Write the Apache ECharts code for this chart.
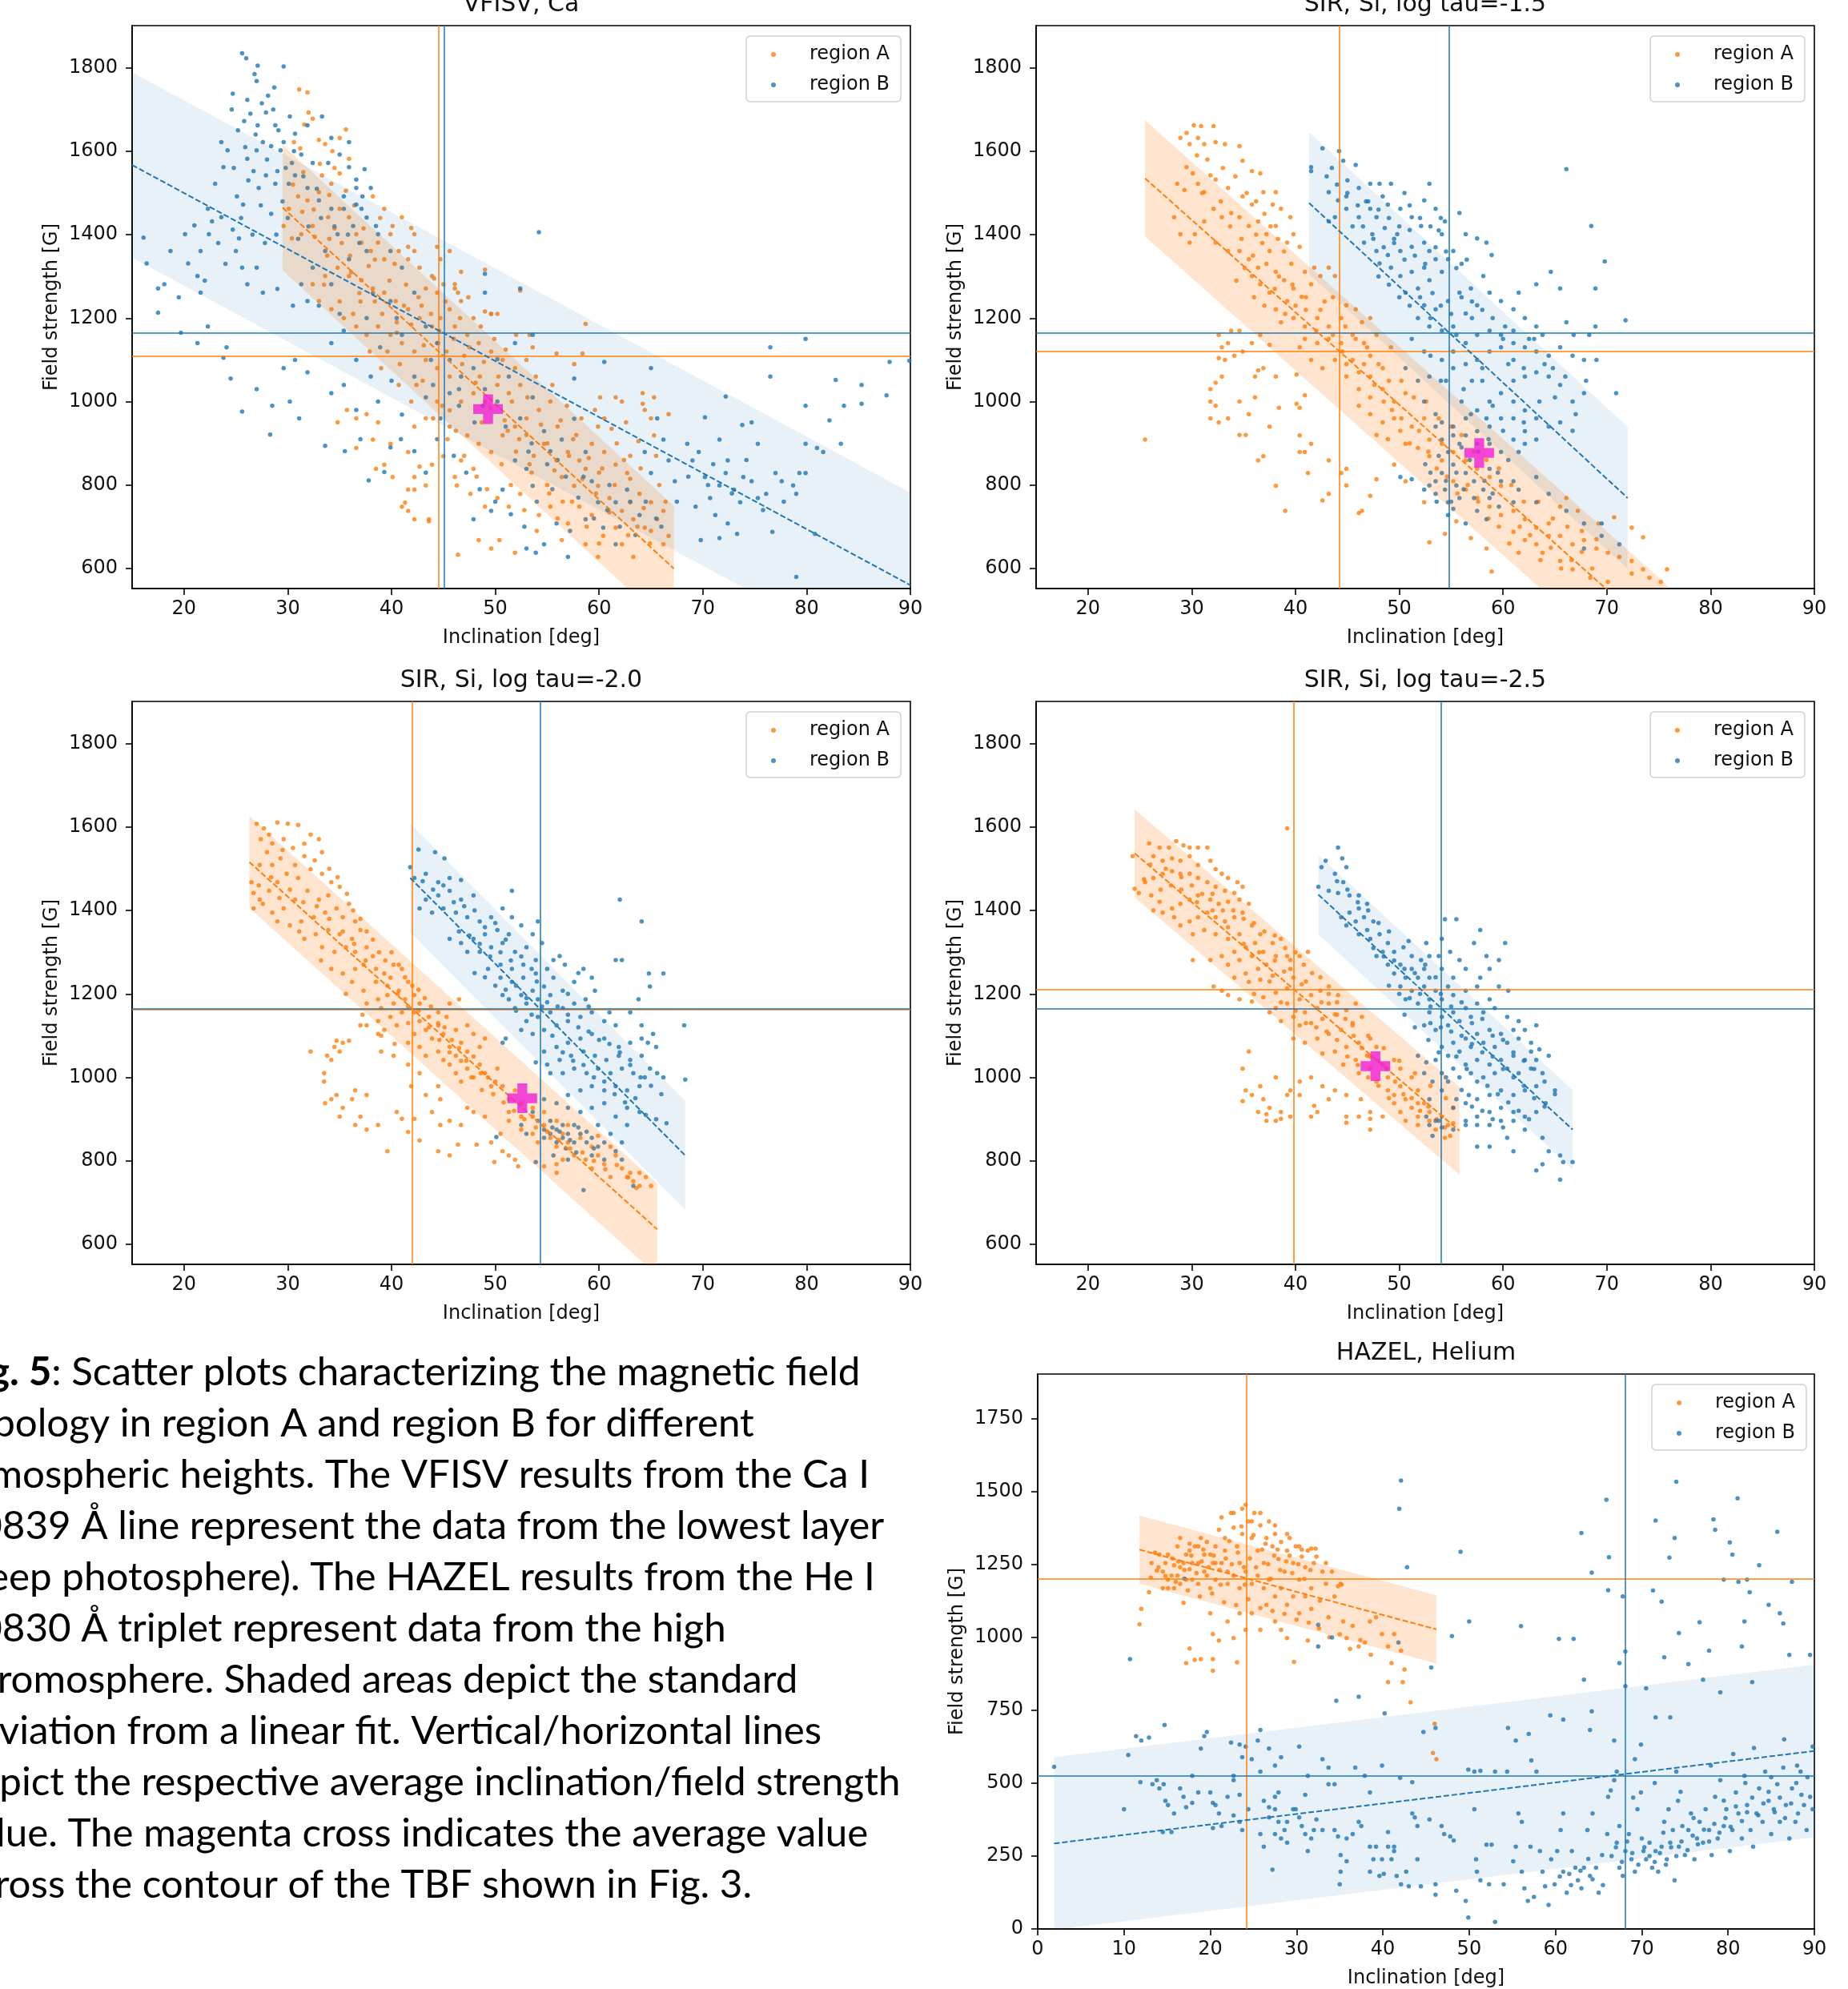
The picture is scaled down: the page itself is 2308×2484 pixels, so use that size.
<!DOCTYPE html>
<html>
<head>
<meta charset="utf-8">
<script src="https://cdn.jsdelivr.net/npm/echarts@6/dist/echarts.min.js"></script>
<style>
  html, body { margin: 0; padding: 0; background: #fff; }
  #chart { width: 2308px; height: 2484px; }
</style>
</head>
<body>
<div id="chart"></div>
<script>
// ---- axis ticks ----
const xTicks = [20, 30, 40, 50, 60, 70, 80, 90];
const yTicks = [600, 800, 1000, 1200, 1400, 1600, 1800];
const heXTicks = [0, 10, 20, 30, 40, 50, 60, 70, 80, 90];
const heYTicks = [0, 250, 500, 750, 1000, 1250, 1500, 1750];

const panelTitles = ['VFISV, Ca', 'SIR, Si, log tau=-1.5', 'SIR, Si, log tau=-2.0', 'SIR, Si, log tau=-2.5', 'HAZEL, Helium'];

// ---- VFISV, Ca ----
const caA = [[31.1,1748],[31.9,1741],[32.0,1693],[32.4,1678],[31.6,1664],[30.6,1622],[31.2,1607],[33.0,1627],[33.6,1617],[35.6,1652],[35.0,1632],[33.3,1542],[34.2,1522],[33.0,1502],[31.9,1482],[31.0,1492],[30.1,1462],[29.6,1421],[30.4,1391],[31.3,1401],[32.4,1421],[33.9,1442],[35.0,1462],[35.9,1442],[36.6,1401],[37.1,1381],[38.0,1361],[38.7,1381],[39.3,1341],[39.9,1401],[40.7,1361],[41.6,1341],[42.2,1361],[42.7,1321],[43.9,1301],[43.3,1271],[44.4,1261],[45.0,1281],[46.1,1271],[46.7,1241],[45.6,1221],[44.7,1200],[43.9,1180],[42.7,1200],[41.6,1221],[40.4,1241],[39.3,1261],[38.2,1271],[37.1,1291],[35.9,1301],[34.8,1321],[33.6,1301],[32.4,1281],[33.0,1241],[34.2,1221],[35.4,1200],[36.6,1180],[37.6,1160],[38.7,1180],[39.9,1160],[41.0,1140],[42.2,1120],[43.3,1100],[44.4,1080],[45.6,1060],[46.1,1180],[47.3,1160],[47.9,1200],[49.0,1216],[49.6,1210],[48.4,1140],[49.6,1120],[50.7,1100],[51.9,1080],[53.0,1100],[53.3,1160],[53.6,1130],[52.4,1040],[51.3,1020],[50.2,1040],[49.0,1000],[47.9,1020],[46.7,1000],[45.6,979],[44.4,1000],[43.3,960],[42.2,940],[45.6,940],[47.3,919],[48.4,899],[49.6,879],[50.7,919],[51.9,940],[53.0,960],[54.2,980],[55.3,1000],[54.7,899],[55.9,859],[57.0,879],[58.1,859],[56.4,819],[57.6,798],[58.7,839],[59.3,899],[59.9,940],[60.5,960],[61.6,1010],[62.2,1000],[64.2,1020],[64.4,980],[65.0,960],[65.3,1010],[66.7,970],[60.5,879],[61.6,849],[62.7,829],[63.9,779],[65.0,759],[66.2,738],[59.9,798],[61.0,769],[62.2,738],[63.3,718],[61.6,698],[60.4,678],[59.3,728],[58.1,748],[57.0,708],[56.4,668],[58.7,658],[59.9,628],[62.2,658],[64.4,698],[65.6,718],[66.7,678],[66.2,658],[63.3,628],[55.3,748],[54.2,728],[52.4,779],[51.3,748],[50.2,769],[49.0,748],[47.9,839],[46.7,859],[46.1,819],[45.0,869],[43.9,849],[42.2,819],[41.6,789],[41.0,748],[42.2,718],[43.6,718],[46.3,799],[47.6,779],[48.4,668],[49.6,648],[50.4,668],[51.9,638],[46.4,633],[43.3,799],[39.3,849],[39.9,899],[38.7,950],[37.6,970],[36.6,960],[35.7,980],[34.8,950],[36.6,889],[38.2,909],[38.5,839],[41.3,758],[41.6,738],[60.1,1010],[64.2,995],[65.3,919],[63.0,759],[49.0,1316],[49.6,1210],[46.7,1311],[46.1,1281],[46.4,1261],[52.4,1266],[58.7,1186],[55.9,1115],[58.4,1115],[57.6,1090],[50.2,1210],[41.9,1416],[35.9,1582],[35.0,1547],[38.2,1492],[39.3,1462],[40.1,1421],[41.0,1442],[42.2,1401],[41.6,1371],[44.7,1341],[44.4,1371],[45.6,1361],[41.6,879],[40.1,819],[42.2,789],[43.6,713],[42.7,844],[52.0,880],[53.5,830],[55.0,800],[56.5,760],[53.0,920],[56.0,940],[57.5,910],[60.0,830],[61.5,800],[63.0,870],[64.0,840],[48.5,1060],[44.5,1140],[47.0,1110],[40.5,1190],[37.0,1240],[36.0,1350],[34.0,1390],[32.5,1460],[31.5,1550],[34.5,1560],
  [30.5,1520],[31.4,1455],[32.6,1395],[33.8,1350],[34.5,1415],[35.2,1380],[36.1,1310],[36.9,1260],[37.8,1325],[38.4,1240],[39.1,1210],[39.8,1290],[40.5,1165],[41.2,1230],[41.9,1185],[42.6,1250],[43.1,1135],[43.8,1210],[44.6,1170],[45.3,1120],[46.0,1150],[46.8,1090],[47.5,1130],[48.1,1045],[48.9,1095],[49.5,985],[50.3,1060],[50.9,955],[51.6,1000],[52.3,910],[53.1,1010],[53.7,870],[54.4,945],[55.0,900],[55.7,835],[56.3,955],[57.1,870],[57.8,920],[58.4,815],[59.0,865],[59.7,780],[60.3,840],[61.0,735],[61.7,900],[62.4,860],[63.0,815],[63.7,700],[64.3,745],[65.0,690],[65.8,800],[66.4,760],[34.0,1495],[35.6,1505],[37.3,1415],[38.9,1440],[40.3,1330],[41.4,1280],[42.9,1230],[44.1,1295],[45.2,1240],[46.6,1200],[47.4,1250],[48.6,1180],[49.9,1150],[51.0,1125],[52.0,1160],[53.9,1060],[55.5,1040],[56.9,990],[58.3,960],[59.6,980],[61.2,935],[62.6,950],[63.8,905],[65.5,870],[33.5,1280],[35.0,1240],[36.3,1210],[37.9,1120],[39.0,1080],[40.7,1040],[41.9,1000],[43.0,1050],[44.9,990],[46.2,930],[47.0,870],[48.2,820],[49.2,790],[50.6,850],[51.5,800],[52.8,740],[54.0,690],[55.2,780],[56.0,720],[57.4,760],[58.8,700],[60.0,660],[62.8,680],[64.9,660],[33.1,1570],[34.3,1600],[36.4,1470],[38.4,1340],[39.6,1120],[40.8,1090],[42.4,1040],[44.0,960],[45.4,910],[48.7,950],[51.2,930],[53.3,850]];
const caB = [[25.6,1835],[26.0,1823],[27.1,1805],[29.6,1803],[26.8,1785],[24.7,1738],[24.6,1700],[26.1,1723],[28.1,1733],[28.7,1753],[27.0,1768],[25.8,1672],[27.1,1662],[27.9,1693],[28.8,1662],[30.2,1683],[27.6,1622],[28.4,1612],[29.3,1602],[27.0,1602],[26.1,1582],[26.7,1552],[27.9,1542],[28.8,1522],[27.2,1512],[25.1,1492],[25.7,1472],[23.6,1622],[24.2,1602],[23.8,1562],[23.0,1522],[22.3,1462],[22.7,1432],[23.6,1442],[24.7,1412],[25.3,1391],[25.0,1361],[25.6,1321],[26.1,1281],[27.0,1321],[27.6,1261],[22.4,1401],[21.6,1361],[21.3,1301],[20.4,1331],[20.1,1401],[21.0,1422],[18.7,1361],[18.1,1281],[17.5,1271],[16.1,1393],[16.4,1331],[17.5,1213],[19.7,1165],[21.6,1261],[22.3,1180],[21.3,1140],[24.1,1130],[23.8,1105],[24.5,1055],[25.6,976],[27.0,1030],[28.5,990],[28.3,921],[30.2,1000],[31.1,960],[29.6,1080],[30.7,1100],[31.9,1070],[33.6,894],[35.5,881],[34.2,1020],[35.4,1040],[36.6,980],[37.0,910],[37.8,811],[39.3,831],[39.9,890],[40.9,910],[42.2,881],[43.3,830],[44.7,960],[45.6,1020],[44.4,910],[47.9,718],[49.6,738],[50.7,789],[51.9,859],[53.0,839],[53.6,798],[54.7,658],[55.9,708],[57.0,628],[53.0,648],[53.9,638],[54.2,1406],[49.0,1306],[51.9,1140],[52.4,960],[53.6,1010],[54.7,929],[55.3,881],[56.4,909],[57.6,959],[58.7,879],[59.3,809],[59.9,759],[58.7,718],[60.4,698],[61.6,759],[62.7,789],[63.9,728],[61.6,658],[64.4,879],[65.0,829],[66.2,909],[66.7,859],[67.3,809],[68.5,899],[69.0,859],[69.6,879],[70.2,819],[70.7,769],[71.6,799],[72.2,829],[71.6,909],[72.4,859],[73.0,789],[73.6,759],[72.4,708],[71.2,728],[69.3,748],[69.8,668],[71.6,673],[73.3,683],[73.9,819],[74.7,809],[75.3,899],[75.3,769],[76.1,779],[76.7,688],[77.0,829],[77.6,809],[78.7,799],[79.0,779],[79.3,829],[79.9,899],[79.9,829],[76.5,1060],[76.5,1130],[79.9,990],[79.9,1150],[81.0,889],[81.6,879],[82.2,955],[82.8,1052],[83.6,990],[83.3,899],[85.3,995],[85.3,1040],[87.7,1015],[88.0,1095],[89.9,1098],[79.0,580],[80.8,683],[73.8,944],[72.2,1012],[70.2,962],[74.7,950],[65.6,960],[65.0,1080],[60.5,1095],[57.6,1055],[50.2,1102],[53.6,1160],[52.4,1271],[49.0,1261],[30.7,1542],[31.9,1512],[33.0,1482],[34.2,1462],[35.4,1492],[36.6,1512],[37.1,1462],[36.3,1421],[34.8,1401],[33.6,1361],[32.4,1321],[31.3,1281],[31.9,1241],[34.2,1281],[35.9,1341],[37.6,1361],[38.7,1401],[39.9,1361],[41.0,1321],[42.2,1261],[39.9,1241],[37.6,1200],[35.4,1170],[34.2,1140],[36.6,1100],[38.9,1130],[41.0,1160],[43.3,1180],[44.4,1140],[45.6,1100],[46.7,1060],[47.9,1080],[49.0,1030],[50.2,1000],[51.3,1060],[42.2,1060],[43.3,1010],[41.0,969],[38.7,1000],[30.7,1642],[31.9,1662],[33.3,1683],[34.2,1632],[35.0,1592],[35.9,1562],[36.6,1532],[37.4,1557],[35.9,1622],[33.9,1572],[32.4,1572],[31.3,1592],[30.4,1572],[29.6,1622],[29.0,1552],[30.1,1522],[38.0,1512],[37.2,1492],[37.6,1441],[38.5,1421],[36.6,1472],[35.4,1462],[46.0,870],[47.2,830],[48.5,790],[50.0,760],[51.5,730],[52.8,700],[54.0,760],[55.5,790],[56.8,820],[58.0,770],[59.5,720],[60.8,740],[62.0,700],[63.5,680],[64.5,760],[66.0,700],[57.2,690],[53.2,880],[55.0,850],[48.0,950],[46.5,990],[44.0,1040],[40.0,1050],[38.0,1060],
  [25.2,1650],[25.9,1610],[26.4,1690],[26.9,1640],[27.5,1715],[28.0,1580],[28.6,1700],[29.1,1650],[29.8,1560],[30.6,1600],[31.5,1540],[32.8,1510],[26.2,1530],[27.4,1470],[28.4,1450],[29.5,1480],[24.8,1560],[25.5,1440],[23.3,1380],[24.0,1330],[26.6,1400],[27.8,1380],[28.9,1400],[30.0,1440],[31.0,1390],[32.0,1420],[33.2,1440],[34.5,1420],[35.8,1400],[36.9,1380],[33.0,1230],[35.0,1210],[38.2,1260],[40.5,1200],[43.8,1100],[46.5,1030],[48.8,990],[51.0,940],[53.5,900],[56.0,860],[58.5,820],[61.0,800],[63.0,760],[65.5,720],[67.5,760],[70.5,800],[72.8,780],[75.8,740],[77.8,760],[68.6,820],[71.0,850],[74.2,860],[29.0,1270],[30.5,1230],[19.5,1250],[22.0,1290]];
const caFitA = [[29.5, 1465], [67.2, 600]];
const caBandA = [[29.5, 1315, 1615], [67.2, 450, 750]];
const caFitB = [[15, 1567], [90, 560]];
const caBandB = [[15, 1345, 1789], [90, 338, 782]];
const caMeanA = [44.5, 1109];
const caMeanB = [45.1, 1164];
const caCross = [49.3, 982];

// ---- SIR, Si, log tau=-1.5 ----
const si15A = [[28.9,1632],[29.5,1644],[30.2,1662],[30.9,1660],[32.1,1660],[29.8,1617],[30.6,1632],[31.2,1617],[32.3,1622],[33.2,1617],[34.6,1612],[29.5,1562],[30.1,1547],[30.6,1522],[31.2,1502],[31.8,1542],[32.3,1532],[33.5,1512],[34.9,1577],[35.8,1552],[36.6,1547],[34.9,1492],[35.8,1472],[36.9,1502],[38.1,1502],[37.8,1472],[38.6,1462],[39.5,1442],[39.8,1401],[40.4,1371],[39.2,1381],[38.1,1421],[37.2,1401],[36.4,1432],[35.5,1421],[34.6,1442],[33.8,1452],[32.9,1442],[32.1,1462],[31.2,1432],[30.3,1401],[29.8,1381],[28.9,1401],[28.3,1442],[28.6,1522],[29.3,1507],[32.3,1381],[33.5,1361],[34.6,1361],[35.5,1341],[36.4,1321],[37.5,1361],[35.8,1301],[36.6,1281],[37.5,1261],[38.1,1311],[38.9,1291],[39.8,1271],[40.6,1251],[41.5,1281],[42.4,1301],[43.2,1321],[43.8,1301],[41.8,1321],[40.9,1311],[39.2,1241],[38.1,1221],[38.6,1190],[39.8,1200],[40.9,1180],[42.1,1200],[43.2,1180],[44.4,1200],[44.9,1231],[45.8,1221],[46.4,1190],[47.2,1200],[47.8,1160],[46.6,1140],[45.5,1160],[44.4,1140],[43.2,1150],[42.1,1140],[40.9,1150],[40.4,1130],[41.5,1100],[42.6,1080],[43.8,1100],[44.9,1090],[46.1,1070],[47.2,1060],[48.4,1080],[49.2,1130],[47.2,1110],[44.9,1060],[46.1,1030],[47.2,1010],[48.4,1030],[49.5,1000],[50.6,1020],[49.5,960],[48.4,950],[47.2,970],[46.1,990],[47.8,920],[48.9,910],[50.1,930],[51.2,940],[52.4,960],[50.6,899],[51.8,889],[52.9,909],[54.1,899],[52.9,869],[54.1,859],[55.2,879],[56.4,859],[57.5,839],[58.7,819],[59.8,798],[55.2,809],[56.4,789],[57.5,769],[58.7,748],[59.8,728],[61.0,738],[62.1,718],[63.2,698],[64.4,708],[65.5,678],[66.7,658],[67.8,668],[69.0,648],[70.1,638],[71.2,628],[72.4,618],[73.5,598],[74.1,578],[75.2,568],[75.8,598],[73.5,675],[72.4,698],[70.7,723],[69.2,708],[67.2,738],[66.1,769],[65.5,748],[64.4,678],[63.2,658],[62.1,668],[61.0,688],[61.5,638],[63.8,638],[65.5,618],[66.7,598],[68.4,578],[70.1,568],[72.4,588],[58.9,593],[58.4,648],[56.9,673],[55.5,713],[54.4,683],[52.9,663],[52.4,759],[50.6,809],[49.5,849],[47.8,814],[46.4,738],[44.9,799],[44.4,829],[43.2,859],[41.5,899],[40.4,919],[40.9,879],[40.4,985],[40.1,995],[40.9,1015],[38.4,985],[37.5,940],[36.9,869],[36.4,859],[38.1,798],[39.0,738],[40.4,879],[41.2,829],[42.6,763],[43.2,779],[44.9,839],[46.1,733],[47.2,774],[36.9,1080],[36.1,1010],[35.5,970],[35.2,920],[34.6,920],[33.5,960],[32.6,950],[32.3,990],[31.8,1000],[31.8,1030],[32.3,1045],[32.9,1060],[31.8,960],[34.6,1000],[36.1,1060],[36.4,1075],[38.1,1060],[40.1,1065],[25.5,909],[32.6,1160],[32.9,1130],[33.5,1140],[34.1,1110],[34.9,1120],[32.6,1104],[33.2,1100],[33.8,1170],[34.6,1170],[35.8,1140],[36.6,1160],[37.5,1136],
  [30.5,1590],[31.5,1580],[33.0,1560],[34.2,1540],[35.3,1500],[36.2,1480],[37.0,1450],[37.6,1420],[38.3,1390],[38.9,1360],[39.6,1330],[36.8,1380],[35.9,1350],[35.1,1320],[34.3,1290],[36.0,1250],[37.0,1230],[38.0,1270],[39.0,1210],[40.0,1230],[41.0,1220],[42.0,1170],[42.8,1240],[43.6,1160],[44.5,1120],[45.5,1100],[46.6,1090],[47.6,1040],[48.5,1000],[49.3,980],[50.2,960],[51.0,900],[51.9,930],[52.8,880],[53.6,840],[54.6,820],[55.6,780],[56.6,800],[57.6,760],[58.6,720],[59.6,700],[60.6,660],[61.6,700],[62.6,680],[63.6,620],[64.6,650],[65.6,600],[66.6,620],[67.6,640],[68.6,600],[31.0,1500],[32.8,1480],[33.7,1420],[34.8,1390],[36.2,1400],[37.2,1330],[38.4,1300],[39.7,1280],[41.0,1250],[42.4,1220],[43.6,1250],[44.8,1180],[45.8,1150],[46.9,1130],[48.0,1090],[49.0,1050],[50.2,1050],[51.4,1010],[52.6,1000],[53.8,960],[55.0,940],[56.0,920],[57.2,880],[58.4,860],[59.6,840],[60.8,800],[62.0,760],[63.4,760],[64.8,720],[66.2,700],[67.6,690],[69.0,670]];
const si15B = [[42.6,1607],[41.5,1562],[41.5,1552],[44.2,1600],[44.6,1577],[45.8,1567],[43.2,1502],[44.1,1482],[44.9,1492],[46.1,1512],[47.2,1522],[48.1,1522],[49.2,1522],[48.4,1492],[47.2,1462],[46.1,1442],[44.9,1462],[43.8,1442],[43.2,1432],[47.8,1442],[48.9,1472],[50.1,1462],[51.2,1442],[52.4,1482],[52.9,1522],[53.5,1462],[52.1,1421],[51.0,1411],[49.8,1401],[48.6,1416],[47.4,1401],[46.6,1381],[47.8,1361],[48.9,1351],[50.1,1361],[51.2,1371],[52.4,1381],[52.9,1361],[54.1,1401],[53.5,1341],[52.4,1321],[51.2,1311],[50.1,1301],[49.2,1321],[48.1,1331],[50.6,1261],[51.8,1271],[52.9,1291],[54.1,1311],[54.7,1341],[55.2,1361],[55.8,1452],[54.4,1432],[56.4,1401],[57.5,1391],[58.4,1381],[58.9,1351],[58.1,1301],[56.9,1271],[55.8,1261],[54.7,1241],[53.5,1221],[52.4,1231],[51.8,1200],[52.9,1180],[54.1,1170],[55.2,1180],[56.4,1211],[57.5,1231],[58.7,1261],[59.8,1241],[61.0,1221],[61.5,1261],[63.2,1281],[62.1,1200],[63.2,1180],[63.8,1160],[61.0,1170],[59.8,1160],[58.7,1170],[57.5,1160],[56.4,1140],[55.2,1120],[54.1,1100],[55.2,1080],[56.4,1090],[57.5,1100],[58.7,1120],[59.8,1130],[61.0,1140],[62.1,1130],[63.2,1120],[64.4,1110],[65.5,1130],[66.7,1110],[67.8,1100],[66.8,1160],[68.3,1160],[68.9,1180],[66.1,1190],[65.5,1271],[68.9,1271],[64.6,1311],[68.5,1421],[69.8,1336],[66.1,1557],[71.8,1195],[70.9,1020],[67.8,1020],[66.7,1000],[65.5,1040],[64.4,1060],[63.2,1070],[62.1,1060],[61.0,1050],[59.8,1020],[58.7,1000],[57.5,979],[56.4,960],[61.0,1000],[62.1,979],[63.2,960],[64.4,940],[65.5,950],[66.7,930],[62.1,929],[61.0,909],[62.1,899],[63.2,909],[59.8,960],[58.7,940],[57.5,929],[55.2,919],[53.5,970],[52.9,1060],[51.8,1050],[50.6,1080],[52.4,1120],[51.2,1150],[52.4,1000],[53.5,940],[54.1,909],[54.7,879],[55.2,849],[54.1,829],[53.5,809],[54.4,789],[55.5,799],[56.4,829],[57.2,809],[58.1,789],[58.7,839],[58.7,769],[57.2,769],[55.8,769],[54.7,759],[53.5,779],[52.9,799],[52.4,789],[55.2,940],[56.4,919],[57.5,899],[58.7,899],[59.8,879],[59.8,809],[61.0,809],[61.5,789],[61.0,759],[59.6,748],[58.4,718],[57.5,738],[55.2,743],[56.4,708],[54.7,728],[51.2,814],[50.1,819],[54.1,950],[55.8,899],[56.9,970],[58.4,960],[61.5,879],[63.2,819],[64.4,779],[66.1,738],[67.8,708],[69.5,678],[71.2,658],[69.5,708],[67.8,648],[63.2,759],[45.5,1420],[46.8,1480],[50.5,1500],[53.8,1410],[56.0,1330],[57.0,1240],[60.2,1180],[62.5,1150],[64.8,1080],[60.5,1090],[58.0,1050],[56.2,1030],[54.0,1050],[55.5,1160],[53.2,1260],[49.5,1380],[45.0,1530],[43.5,1560],
  [43.0,1540],[44.0,1520],[45.0,1500],[46.0,1470],[47.0,1480],[48.0,1460],[49.0,1440],[50.0,1420],[51.0,1470],[52.0,1440],[53.0,1420],[54.0,1440],[46.5,1420],[47.5,1390],[48.5,1370],[49.5,1390],[50.5,1340],[51.5,1350],[52.5,1330],[53.5,1370],[54.5,1360],[55.5,1320],[56.5,1340],[48.0,1300],[49.0,1280],[50.0,1250],[51.0,1230],[52.0,1250],[53.0,1200],[54.0,1230],[55.0,1210],[56.0,1250],[57.0,1200],[58.0,1220],[59.0,1200],[60.0,1150],[61.0,1100],[62.0,1080],[63.0,1150],[64.0,1090],[65.0,1010],[66.0,1060],[67.0,970],[68.0,1050],[69.0,1100],[53.0,1110],[54.5,1050],[56.0,1000],[57.0,1050],[58.0,1080],[59.0,990],[60.0,930],[61.0,960],[62.0,950],[63.5,1000],[52.5,850],[53.0,830],[53.8,870],[54.5,810],[55.5,830],[56.2,790],[56.8,860],[57.6,880],[58.2,810],[59.0,780],[59.5,830],[60.5,860],[55.0,760],[53.6,760],[56.0,890],[58.6,910]];
const si15FitA = [[25.5, 1535], [75.9, 419]];
const si15BandA = [[25.5, 1396, 1674], [75.9, 280, 558]];
const si15FitB = [[41.3, 1476], [72.0, 769]];
const si15BandB = [[41.3, 1306, 1646], [72.0, 599, 939]];
const si15MeanA = [44.2, 1120];
const si15MeanB = [54.8, 1164];
const si15Cross = [57.7, 877];

// ---- SIR, Si, log tau=-2.0 ----
const si20A = [[27.0,1608],[27.7,1597],[29.0,1611],[30.0,1608],[31.0,1605],[28.2,1582],[29.6,1571],[28.5,1561],[27.4,1571],[32.2,1582],[33.0,1571],[33.3,1540],[31.6,1530],[30.7,1509],[29.3,1525],[28.5,1509],[27.3,1509],[26.5,1468],[26.7,1442],[27.3,1426],[28.2,1447],[29.0,1468],[29.9,1488],[31.0,1478],[32.2,1499],[33.3,1488],[34.2,1468],[35.0,1457],[33.9,1436],[33.0,1426],[31.9,1447],[30.7,1426],[29.6,1405],[28.5,1395],[27.6,1416],[26.7,1405],[29.0,1374],[30.2,1364],[31.3,1374],[32.5,1384],[33.6,1395],[34.7,1405],[35.9,1416],[35.3,1384],[36.5,1374],[37.0,1353],[36.2,1332],[35.0,1343],[33.9,1353],[32.7,1343],[31.6,1332],[33.3,1312],[34.5,1301],[35.6,1312],[36.5,1301],[37.6,1312],[38.2,1291],[37.3,1270],[36.5,1260],[35.3,1249],[34.2,1260],[36.2,1229],[37.3,1208],[38.5,1229],[39.3,1249],[40.2,1270],[39.9,1239],[41.0,1260],[41.6,1229],[40.7,1208],[39.6,1197],[38.7,1187],[37.6,1177],[39.0,1166],[40.2,1177],[41.3,1187],[42.2,1197],[42.7,1177],[42.2,1156],[41.0,1156],[39.9,1145],[38.7,1135],[37.6,1125],[39.3,1114],[40.5,1125],[41.6,1130],[42.7,1135],[43.6,1145],[44.5,1156],[45.6,1177],[46.5,1187],[45.3,1145],[44.5,1125],[43.3,1114],[42.2,1104],[41.6,1083],[42.7,1073],[43.9,1093],[45.0,1104],[46.2,1114],[47.3,1125],[47.9,1104],[46.7,1083],[45.6,1073],[44.5,1062],[43.3,1052],[45.0,1042],[46.2,1052],[47.3,1062],[48.5,1073],[49.0,1093],[48.5,1031],[47.3,1021],[46.2,1010],[45.6,1031],[47.9,1000],[46.7,990],[49.0,1010],[50.2,1021],[49.6,979],[50.7,979],[51.9,969],[51.3,948],[52.5,938],[53.6,927],[54.7,917],[53.6,906],[52.5,906],[51.3,896],[52.5,875],[53.6,865],[54.7,886],[55.9,896],[57.0,886],[56.5,865],[55.3,855],[54.1,844],[55.9,834],[57.0,844],[58.2,855],[59.3,834],[57.6,813],[56.5,803],[58.7,803],[59.9,813],[60.5,792],[59.3,782],[61.1,761],[61.6,813],[62.2,782],[62.7,761],[63.3,751],[63.9,771],[64.5,761],[65.0,740],[63.6,735],[51.3,917],[50.5,865],[49.6,844],[51.3,813],[51.9,803],[50.7,823],[49.0,906],[47.9,917],[46.7,886],[45.6,896],[44.7,886],[43.9,917],[45.6,813],[44.5,823],[46.4,839],[42.7,849],[41.6,869],[42.2,901],[41.0,901],[40.5,917],[39.6,823],[38.7,886],[37.6,958],[36.5,969],[35.3,927],[37.0,906],[36.5,886],[37.6,875],[36.2,948],[34.2,948],[34.7,958],[33.6,938],[35.0,906],[33.5,990],[33.5,1010],[33.8,1052],[34.5,1073],[34.7,1088],[35.3,1083],[35.9,1088],[34.2,1042],[35.0,1062],[32.2,1062],[37.0,1125],[38.7,1104],[39.0,1062],[40.2,1052],[41.6,1031],[41.9,979],[42.7,1010],[44.5,979],[44.7,948],[43.3,958],[47.3,927],[48.2,839],[49.9,797],[52.2,787],[54.7,787],[55.9,771],[59.9,860],[61.1,834],[63.0,771],[55.9,792],
  [28.0,1540],[29.5,1545],[30.5,1550],[31.6,1560],[32.6,1520],[34.0,1500],[34.8,1480],[35.7,1440],[36.3,1400],[37.0,1380],[37.6,1350],[38.2,1330],[38.8,1300],[39.4,1280],[40.0,1300],[40.7,1270],[41.3,1240],[42.0,1220],[42.6,1210],[43.2,1190],[43.8,1170],[44.5,1130],[45.1,1120],[45.8,1090],[46.5,1070],[47.2,1040],[47.9,1050],[48.6,1010],[49.3,1000],[50.0,990],[30.2,1450],[31.5,1420],[32.8,1410],[34.0,1380],[35.3,1350],[36.4,1320],[37.5,1280],[38.5,1260],[39.6,1220],[40.6,1200],[41.6,1170],[42.6,1160],[43.6,1120],[44.6,1090],[45.6,1060],[46.7,1040],[47.7,1000],[48.7,970],[49.8,960],[50.8,940],[51.8,920],[52.8,900],[53.9,880],[55.0,870],[56.1,850],[57.2,830],[58.4,820],[59.5,800],[60.6,780],[61.7,790],[62.8,760],[63.9,740],[28.4,1480],[27.2,1460],[29.2,1430],[31.1,1350],[33.2,1280],[35.6,1200],[37.2,1150],[39.0,1100],[40.3,1080]];
const si20B = [[41.8,1504],[42.6,1546],[44.2,1540],[45.1,1525],[42.2,1478],[43.3,1488],[44.5,1468],[45.6,1478],[46.7,1473],[47.9,1436],[46.7,1426],[45.6,1447],[44.5,1436],[43.3,1426],[42.7,1405],[43.9,1395],[45.0,1405],[46.2,1395],[47.3,1384],[48.5,1374],[49.6,1384],[50.7,1405],[51.6,1447],[51.6,1384],[52.5,1364],[51.3,1343],[50.2,1353],[49.0,1343],[47.9,1332],[46.7,1322],[45.6,1332],[47.3,1301],[48.5,1301],[49.6,1312],[50.7,1322],[51.9,1301],[53.0,1312],[53.6,1343],[54.1,1374],[54.5,1322],[53.9,1281],[52.7,1270],[51.6,1260],[50.5,1270],[49.3,1260],[50.5,1239],[51.6,1229],[52.7,1239],[53.9,1249],[55.0,1260],[55.6,1281],[56.2,1291],[56.7,1270],[55.6,1239],[54.7,1218],[53.6,1208],[52.5,1197],[51.3,1187],[50.7,1197],[51.9,1166],[53.0,1177],[54.1,1187],[55.3,1197],[56.5,1208],[57.6,1229],[58.5,1260],[59.3,1239],[59.6,1208],[58.7,1187],[57.6,1177],[56.5,1166],[55.3,1156],[54.1,1145],[53.0,1135],[52.5,1114],[53.6,1104],[54.7,1114],[55.9,1125],[57.0,1135],[58.2,1145],[59.3,1156],[60.5,1135],[61.6,1125],[61.0,1156],[61.6,1281],[62.2,1281],[62.0,1426],[64.1,1374],[64.8,1249],[66.2,1249],[64.9,1218],[63.8,1187],[63.0,1156],[64.1,1125],[65.2,1104],[64.1,1093],[63.0,1083],[61.9,1073],[60.5,1093],[59.3,1104],[58.2,1093],[57.0,1083],[55.9,1073],[54.7,1062],[53.9,1036],[55.0,1031],[56.2,1042],[57.3,1052],[58.5,1062],[59.6,1052],[60.7,1042],[61.9,1052],[63.0,1042],[64.1,1052],[64.7,1083],[65.5,1073],[64.9,1021],[64.4,1000],[63.3,1010],[62.2,1021],[61.1,1010],[59.9,1021],[58.8,1010],[57.6,1021],[56.5,1010],[55.3,1010],[59.3,979],[58.2,969],[57.0,958],[60.5,969],[61.6,979],[62.7,969],[63.9,979],[65.6,1010],[66.2,1000],[68.3,995],[68.2,1125],[63.9,917],[62.7,927],[61.6,906],[60.5,938],[59.3,927],[58.2,917],[57.0,927],[55.9,938],[54.7,948],[50.7,1083],[51.0,1093],[59.9,886],[61.1,865],[62.2,844],[62.7,886],[61.6,823],[60.5,803],[59.3,813],[58.5,730],[63.3,740],[53.6,917],[54.1,896],[54.7,875],[55.3,896],[55.9,875],[56.5,886],[55.3,865],[56.5,855],[57.0,865],[57.6,844],[58.2,865],[58.8,844],[57.6,886],[55.9,844],[54.7,855],[55.6,813],[57.0,803],[59.3,855],[59.9,834],[60.5,844],[62.2,803],[50.1,857],[52.5,886],[53.0,865],[53.9,797],
  [43.0,1470],[44.0,1450],[45.0,1460],[46.0,1420],[47.0,1410],[48.0,1400],[49.0,1360],[50.0,1370],[51.0,1330],[46.5,1350],[47.5,1340],[48.5,1320],[49.5,1290],[50.5,1300],[51.5,1280],[52.5,1290],[53.5,1260],[48.0,1250],[49.0,1240],[50.0,1220],[51.0,1210],[52.0,1220],[53.0,1190],[54.0,1230],[55.0,1180],[56.0,1170],[57.0,1150],[58.0,1120],[59.0,1110],[60.0,1090],[61.0,1080],[62.0,1060],[63.0,1030],[64.0,1000],[65.0,980],[66.0,960],[55.5,1100],[56.5,1060],[57.5,1040],[58.5,1030],[59.5,1000],[60.5,990],[61.5,960],[62.5,940],[63.5,950],[64.5,910],[65.5,900],[66.5,890],[54.5,1170],[53.5,1150],[52.0,1160],[57.0,1200],[58.0,1250],[59.0,1170],[55.5,880],[56.2,870],[57.2,850],[58.0,880],[58.8,870],[59.5,830],[56.8,830],[57.8,820]];
const si20FitA = [[26.3, 1516], [65.6, 636]];
const si20BandA = [[26.3, 1406, 1626], [65.6, 526, 746]];
const si20FitB = [[41.8, 1478], [68.3, 813]];
const si20BandB = [[41.8, 1348, 1608], [68.3, 683, 943]];
const si20MeanA = [42.0, 1163];
const si20MeanB = [54.3, 1164];
const si20Cross = [52.6, 950];

// ---- SIR, Si, log tau=-2.5 ----
const si25A = [[24.3,1530],[24.5,1452],[24.9,1442],[25.4,1475],[25.9,1561],[26.9,1551],[27.8,1551],[28.5,1566],[29.2,1556],[29.8,1551],[30.6,1551],[31.5,1551],[26.3,1530],[27.2,1519],[28.1,1525],[28.9,1519],[29.8,1530],[30.6,1509],[31.8,1519],[32.3,1499],[32.9,1488],[33.5,1478],[34.4,1468],[34.9,1457],[34.1,1442],[33.2,1447],[32.3,1457],[31.5,1468],[30.6,1478],[29.8,1488],[28.9,1488],[28.1,1494],[27.2,1488],[26.3,1478],[25.5,1468],[26.1,1436],[26.9,1421],[26.3,1400],[27.2,1395],[28.1,1405],[28.9,1416],[29.8,1426],[30.6,1436],[31.8,1426],[32.6,1416],[33.5,1421],[34.6,1426],[35.5,1416],[34.9,1395],[34.1,1384],[33.2,1374],[32.3,1384],[31.5,1395],[30.6,1384],[29.8,1374],[28.9,1364],[28.3,1384],[30.1,1343],[31.2,1353],[32.3,1343],[33.5,1332],[34.6,1343],[35.8,1364],[36.6,1343],[36.1,1322],[35.2,1312],[34.1,1301],[32.9,1291],[31.8,1281],[33.5,1270],[34.6,1281],[35.8,1291],[36.9,1301],[37.8,1322],[38.6,1332],[38.1,1291],[37.2,1270],[36.4,1260],[35.2,1249],[34.1,1239],[35.5,1229],[36.6,1234],[37.8,1244],[38.9,1254],[39.5,1281],[40.4,1291],[41.2,1301],[39.8,1239],[40.6,1223],[39.2,1213],[38.1,1203],[36.9,1192],[35.8,1182],[34.6,1187],[33.5,1197],[38.1,1166],[39.2,1177],[40.4,1187],[41.5,1197],[42.4,1208],[43.2,1218],[44.1,1197],[43.2,1177],[42.1,1166],[40.9,1156],[39.8,1145],[38.6,1135],[37.5,1156],[40.4,1125],[41.5,1130],[42.6,1140],[43.8,1151],[44.9,1161],[45.8,1177],[46.4,1145],[45.5,1125],[44.4,1114],[43.2,1104],[42.1,1093],[40.9,1083],[39.8,1093],[42.6,1057],[43.8,1062],[44.9,1073],[46.1,1083],[47.2,1093],[47.8,1073],[46.9,1052],[45.8,1042],[44.6,1031],[46.1,1010],[47.2,1021],[48.4,1031],[49.5,1042],[50.1,1021],[48.9,1000],[47.8,990],[48.9,969],[50.1,979],[51.2,1000],[51.8,969],[50.6,948],[49.5,938],[50.1,917],[51.2,927],[52.4,938],[52.9,917],[51.8,906],[50.6,896],[51.8,886],[52.9,896],[54.1,906],[53.5,875],[54.7,886],[55.2,927],[54.9,860],[54.4,855],[48.4,906],[47.2,917],[46.3,948],[44.9,958],[43.8,969],[43.2,948],[42.1,917],[41.5,906],[40.4,958],[39.5,969],[38.6,917],[38.1,896],[37.5,927],[36.9,948],[36.4,917],[35.8,958],[35.2,969],[34.9,943],[35.5,1062],[34.9,1021],[36.6,979],[38.1,1000],[39.2,958],[40.4,990],[41.5,1000],[42.6,979],[46.1,906],[47.2,875],[44.9,906],[41.8,932],[39.5,906],[37.2,896],[44.9,891],[47.2,901],[49.5,958],[51.8,938],[32.9,1208],[32.1,1218],[37.2,912],[38.6,901],[39.2,1597],[39.2,1291],[30.1,1281],
  [27.0,1450],[28.0,1460],[29.0,1450],[30.0,1460],[31.0,1440],[32.0,1440],[33.0,1400],[34.0,1400],[35.0,1380],[36.0,1370],[37.0,1350],[38.0,1340],[39.0,1310],[40.0,1300],[40.8,1270],[41.6,1250],[42.4,1240],[43.2,1200],[44.0,1180],[44.8,1140],[45.6,1100],[46.4,1070],[47.2,1050],[48.0,1040],[48.8,1020],[49.6,990],[50.4,960],[51.2,950],[52.0,920],[52.8,930],[53.6,900],[54.4,880],[55.2,890],[26.0,1510],[27.5,1500],[29.0,1480],[30.5,1420],[32.0,1400],[33.5,1360],[35.0,1320],[36.5,1300],[38.0,1280],[39.5,1260],[41.0,1230],[42.5,1180],[44.0,1150],[45.5,1130],[47.0,1100],[48.5,1070],[50.0,1040],[51.5,1010],[53.0,980],[54.5,950],[37.5,1230],[38.6,1180],[40.0,1160],[41.0,1130],[36.0,1200],[42.0,1120],[43.0,1110],[44.0,1090],[45.0,1050],[46.0,1030],[47.0,1000],[48.0,980],[49.0,950]];
const si25B = [[42.2,1457],[42.5,1504],[42.9,1519],[44.1,1551],[44.5,1525],[44.9,1504],[43.8,1488],[43.2,1447],[44.1,1442],[44.6,1468],[45.2,1436],[46.1,1436],[46.9,1416],[46.1,1405],[45.2,1395],[44.4,1384],[44.9,1364],[45.8,1374],[46.6,1384],[47.5,1374],[46.9,1353],[46.1,1343],[47.2,1332],[48.1,1343],[48.9,1322],[48.4,1301],[47.8,1291],[49.5,1301],[50.4,1312],[51.2,1291],[52.1,1281],[52.9,1291],[52.4,1260],[51.2,1260],[50.1,1270],[48.9,1270],[49.5,1249],[50.6,1239],[51.8,1239],[52.9,1239],[54.1,1260],[53.8,1291],[52.6,1322],[50.9,1327],[54.4,1379],[55.5,1379],[54.1,1332],[54.9,1301],[55.8,1281],[56.4,1260],[55.2,1239],[54.7,1218],[53.5,1208],[52.4,1218],[51.2,1208],[50.1,1218],[50.6,1187],[51.8,1177],[52.9,1187],[54.1,1187],[55.2,1197],[56.4,1208],[57.5,1218],[57.8,1239],[58.7,1260],[59.6,1281],[60.2,1322],[57.8,1353],[57.2,1322],[58.4,1291],[58.7,1187],[59.6,1218],[60.5,1208],[57.5,1177],[56.4,1166],[55.2,1156],[54.1,1145],[52.9,1156],[52.4,1125],[53.5,1114],[54.7,1125],[55.8,1135],[56.9,1145],[58.1,1156],[59.2,1166],[60.4,1145],[61.5,1135],[62.1,1114],[63.2,1125],[61.0,1114],[59.8,1104],[58.7,1114],[57.5,1104],[56.4,1093],[55.2,1083],[54.1,1073],[53.5,1042],[54.7,1052],[55.8,1062],[56.9,1073],[58.1,1083],[59.2,1073],[60.4,1083],[61.5,1093],[62.7,1083],[62.7,1062],[63.5,1067],[63.2,1042],[62.1,1042],[61.0,1052],[59.8,1042],[58.7,1031],[57.5,1042],[56.4,1031],[55.2,1021],[54.1,1010],[54.7,990],[55.8,1000],[56.9,1010],[58.1,1000],[59.2,1010],[60.4,1021],[61.5,1010],[62.7,1021],[63.8,1010],[65.0,969],[64.4,1052],[63.2,979],[62.1,969],[61.0,958],[59.8,969],[58.7,958],[57.5,948],[56.4,938],[55.2,927],[54.1,969],[52.9,948],[57.5,906],[58.7,917],[59.8,927],[61.0,917],[62.1,906],[63.2,917],[64.1,938],[61.0,896],[59.8,896],[58.7,886],[57.5,886],[56.4,896],[62.1,875],[63.8,855],[64.4,823],[65.5,813],[65.8,797],[66.7,797],[63.8,792],[63.2,777],[65.5,755],[60.4,855],[58.7,834],[57.5,834],[61.0,823],[56.7,958],[55.5,948],[52.9,886],[52.6,906],[53.5,896],[51.8,1052],[52.6,1036],[52.4,1010],[53.2,990],[53.8,896],[55.2,875],[56.4,886],[53.2,860],[54.1,880],
  [44.0,1470],[45.0,1450],[46.0,1420],[47.0,1400],[48.0,1370],[49.0,1350],[47.5,1310],[48.5,1290],[49.5,1280],[50.5,1260],[51.5,1250],[52.5,1270],[53.5,1240],[49.0,1220],[50.0,1200],[51.0,1190],[52.0,1200],[53.0,1170],[54.0,1200],[55.0,1170],[56.0,1180],[57.0,1130],[58.0,1140],[59.0,1100],[60.0,1090],[61.0,1060],[62.0,1040],[63.0,1020],[64.0,990],[65.0,960],[53.0,1130],[54.0,1120],[55.0,1110],[56.0,1100],[57.0,1080],[58.0,1060],[59.0,1050],[60.0,1020],[61.0,1000],[62.0,980],[63.0,950],[64.0,930],[55.5,1050],[56.5,1020],[57.5,990],[58.5,980],[59.5,960],[60.5,940],[61.5,920],[62.5,900],[56.0,970],[57.0,930],[58.0,920],[59.0,900],[60.0,880],[54.5,1000],[53.8,1060],[52.8,1090],[51.5,1120],[50.5,1150]];
const si25FitA = [[24.5, 1537], [55.8, 872]];
const si25BandA = [[24.5, 1432, 1642], [55.8, 767, 977]];
const si25FitB = [[42.2, 1438], [66.7, 875]];
const si25BandB = [[42.2, 1343, 1533], [66.7, 780, 970]];
const si25MeanA = [39.8, 1211];
const si25MeanB = [54.0, 1164];
const si25Cross = [47.7, 1027];

// ---- HAZEL, Helium ----
const heA = [[11.8,1044],[12.0,1097],[12.9,1154],[13.2,1254],[13.8,1228],[13.6,1290],[14.5,1168],[14.8,1254],[15.1,1283],[15.5,1211],[15.8,1247],[16.2,1311],[16.5,1183],[16.9,1118],[16.5,1340],[17.2,1283],[17.6,1233],[17.9,1197],[18.2,1311],[18.6,1254],[18.9,1340],[19.3,1283],[19.6,1211],[20.0,1168],[20.3,1254],[20.6,1311],[21.0,1368],[21.3,1411],[21.7,1297],[22.0,1225],[22.4,1426],[22.7,1376],[23.1,1311],[23.4,1254],[23.7,1354],[24.1,1454],[24.4,1397],[24.8,1340],[25.1,1426],[25.5,1297],[25.8,1383],[26.2,1254],[26.5,1340],[26.8,1397],[27.2,1311],[27.5,1354],[27.9,1268],[28.2,1326],[28.6,1225],[28.9,1297],[29.2,1340],[29.6,1254],[29.9,1311],[30.3,1197],[30.6,1276],[31.0,1240],[31.3,1297],[31.7,1168],[32.0,1254],[32.2,1304],[32.7,1125],[33.0,1225],[33.4,1183],[33.7,1068],[34.4,1140],[35.1,1183],[35.4,1054],[35.8,997],[36.5,1039],[37.2,968],[37.9,982],[38.5,1054],[39.2,1068],[39.9,1011],[40.6,968],[41.0,911],[40.6,846],[41.3,1011],[42.1,954],[42.3,846],[42.5,889],[43.2,777],[14.5,1225],[15.1,1197],[15.8,1168],[16.5,1240],[17.2,1197],[17.9,1254],[18.6,1183],[19.3,1225],[20.0,1283],[20.6,1197],[21.3,1254],[22.0,1183],[22.7,1211],[23.4,1168],[24.1,1225],[24.8,1183],[25.5,1211],[26.2,1168],[26.8,1197],[27.5,1140],[28.2,1168],[28.9,1111],[29.6,1140],[30.3,1082],[31.0,1140],[31.7,1097],[20.0,1082],[20.3,1011],[21.0,989],[22.0,1054],[22.7,997],[23.4,1082],[24.1,1025],[24.8,1082],[25.8,1025],[26.5,1111],[27.5,1054],[28.2,1025],[28.9,997],[29.7,915],[31.3,989],[20.3,925],[18.9,925],[18.2,922],[17.6,961],[23.1,914],[20.3,885],[17.2,911],[15.1,1168],[16.2,1211],[16.9,1254],[17.6,1297],[18.6,1311],[19.6,1326],[20.6,1254],[21.7,1340],[22.7,1426],[23.7,1440],[24.8,1397],[25.8,1426],[27.5,1383],[28.9,1354],[30.3,1311],[31.7,1304],[32.3,1276],[33.4,1254],[34.1,1225],[34.8,1175],[35.2,1180],[13.1,1204],[14.1,1283],[45.8,603],[46.0,703],[46.2,582],
  [14.0,1240],[14.8,1210],[15.6,1270],[16.3,1260],[17.0,1230],[17.8,1280],[18.4,1220],[19.0,1260],[19.8,1240],[20.4,1280],[21.1,1230],[21.8,1270],[22.5,1250],[23.2,1290],[23.9,1240],[24.6,1270],[25.3,1240],[26.0,1300],[26.7,1250],[27.4,1280],[28.1,1230],[28.8,1260],[29.5,1220],[30.2,1250],[30.9,1200],[31.6,1230],[16.0,1190],[17.4,1160],[18.8,1140],[20.2,1150],[21.6,1120],[23.0,1110],[24.4,1130],[25.8,1100],[27.2,1090],[28.6,1080],[30.0,1060],[31.4,1050],[32.6,1030],[33.8,1000],[35.0,1010],[36.2,960],[37.4,990],[38.6,940],[22.2,1330],[23.6,1380],[25.0,1350],[26.4,1320],[27.8,1300],[29.2,1280],[30.6,1300],[19.2,1300],[17.6,1320],[21.2,1180],[24.0,1180],[27.0,1200]];
const heB = [[1.9,556],[10.7,925],[10.5,596],[10.0,410],[11.4,661],[12.0,646],[12.9,656],[14.7,699],[11.9,503],[13.3,496],[13.8,510],[14.1,482],[14.6,496],[14.8,439],[15.1,425],[15.5,332],[14.5,332],[15.8,396],[16.5,482],[16.9,453],[17.2,417],[17.9,525],[18.9,618],[19.3,661],[19.6,675],[20.0,468],[20.3,432],[20.6,425],[21.0,396],[21.3,353],[20.3,346],[22.4,639],[23.4,632],[23.7,589],[22.7,525],[22.7,389],[23.4,367],[23.7,339],[24.8,582],[25.5,646],[25.8,682],[26.8,618],[25.8,539],[26.2,439],[25.8,325],[26.2,282],[26.8,382],[27.2,203],[27.5,410],[27.5,325],[27.9,367],[28.2,310],[28.6,339],[28.9,296],[27.9,468],[29.6,410],[30.3,382],[30.6,353],[31.0,325],[31.3,267],[31.7,310],[32.3,375],[33.0,339],[33.7,553],[33.7,496],[34.4,339],[34.8,317],[35.1,196],[35.0,153],[35.8,310],[36.5,325],[36.8,553],[37.2,367],[37.5,353],[38.5,282],[38.9,239],[39.2,282],[39.6,182],[39.9,239],[40.6,282],[41.0,239],[41.3,267],[41.6,182],[42.1,153],[42.7,196],[43.0,146],[43.4,396],[43.7,382],[44.0,353],[44.0,239],[44.4,146],[45.4,375],[46.1,153],[46.1,117],[46.8,353],[47.1,325],[47.8,317],[48.2,303],[48.5,131],[49.6,96],[49.9,39],[49.9,546],[50.6,539],[50.6,410],[50.8,239],[50.9,196],[51.3,167],[52.0,289],[52.6,289],[52.3,153],[53.0,24],[54.0,153],[54.4,539],[55.1,232],[55.4,282],[55.7,396],[56.1,367],[56.1,196],[56.4,139],[56.8,96],[57.1,282],[57.5,110],[57.8,539],[58.2,267],[58.5,196],[58.8,146],[59.2,82],[59.5,239],[59.9,153],[60.2,267],[60.6,339],[60.9,396],[60.9,196],[61.3,124],[61.6,189],[61.9,267],[62.3,210],[62.6,167],[63.0,139],[63.3,210],[63.7,339],[64.0,182],[64.3,396],[64.7,210],[65.0,124],[65.4,253],[66.0,325],[66.1,453],[66.4,475],[66.8,510],[67.1,539],[67.1,296],[67.4,353],[67.4,210],[67.8,182],[68.1,267],[68.5,325],[68.8,239],[69.2,196],[69.2,582],[69.5,410],[69.9,468],[70.2,267],[70.5,239],[70.9,296],[71.2,210],[71.6,267],[71.9,196],[72.3,282],[72.6,367],[72.9,239],[73.1,410],[73.3,296],[73.6,339],[73.8,167],[74.0,539],[74.2,439],[74.3,282],[74.7,353],[75.0,253],[75.4,339],[75.7,396],[76.1,239],[76.4,310],[76.7,367],[77.1,296],[77.4,410],[77.8,339],[78.1,253],[78.5,453],[78.8,310],[79.1,510],[79.5,353],[79.8,410],[80.2,267],[80.5,339],[80.9,468],[81.2,396],[81.6,310],[81.9,525],[82.2,425],[82.6,339],[82.9,282],[83.3,396],[83.6,482],[84.0,367],[84.3,539],[84.7,439],[85.0,325],[85.3,410],[85.7,496],[86.0,367],[86.4,553],[86.7,425],[87.1,310],[87.4,482],[87.8,367],[88.1,396],[88.4,539],[88.8,425],[89.1,339],[89.5,453],[89.8,625],[89.8,410],[42.1,1537],[41.9,1440],[42.8,1240],[45.6,896],[48.0,1004],[49.0,1293],[50.0,1054],[41.8,982],[40.2,739],[37.2,796],[34.6,782],[32.5,968],[34.1,999],[56.0,1038],[60.4,994],[62.1,994],[63.0,1357],[64.2,1221],[66.1,1161],[65.9,1471],[66.2,1274],[67.8,1140],[68.1,951],[67.4,911],[71.3,1160],[71.6,1400],[72.3,1122],[72.6,931],[73.2,1273],[73.8,1340],[74.0,1533],[74.3,1014],[75.4,908],[76.7,1051],[77.8,954],[78.3,1404],[78.5,1368],[79.5,1197],[80.2,1325],[80.5,1283],[81.1,1476],[81.2,1190],[81.9,1054],[82.2,1197],[82.5,1154],[81.6,968],[83.6,1247],[84.7,1111],[85.7,1361],[86.0,1082],[87.1,939],[87.4,1190],[89.5,939],[86.4,1047],[82.8,846],[79.1,811],[77.1,854],[71.6,725],[73.3,725],[70.5,825],[68.1,832],[69.9,632],[66.8,646],[64.0,682],[63.3,854],[64.2,746],[59.4,732],[60.9,718],[56.9,668],[57.2,578],[54.5,689],[53.0,539],[51.3,542],[55.4,646],[46.1,689],[44.7,675],[42.0,518],[43.4,503],[39.9,560],[37.9,525],[38.5,468],[34.4,496],[33.0,582],[31.3,525],[30.3,625],[27.5,560],[28.2,589],[31.0,460],[26.8,417],[24.4,410],[24.1,625],[22.7,510],[23.4,460],[18.6,468],[17.9,432],[22.0,453],[27.5,453],[28.9,367],[29.9,410],[32.0,339],[35.1,253],[35.8,232],[40.6,332],[41.3,282],[38.5,196],[40.1,189],[17.0,1201],[32.5,1042],
  [66.5,250],[67.0,280],[67.7,230],[68.3,300],[68.9,260],[69.6,220],[70.3,280],[70.9,250],[71.5,230],[72.1,260],[72.8,220],[73.4,280],[74.0,250],[74.6,300],[75.3,270],[75.9,320],[76.5,290],[77.2,340],[77.8,300],[78.4,360],[79.0,330],[79.7,380],[80.3,350],[80.9,420],[81.6,370],[82.2,400],[82.8,450],[83.5,390],[84.1,430],[84.7,470],[85.4,400],[86.0,450],[86.6,380],[87.3,430],[87.9,500],[88.5,460],[89.2,520],[70.0,310],[72.5,330],[76.0,380],[79.5,440],[82.0,500],[85.0,520],[88.0,560],[78.0,560],[80.6,600],[83.0,620],[86.5,650],[69.0,450],[71.5,500],[74.5,470],[60.5,180],[61.8,150],[62.9,200],[64.3,170],[65.5,150],[63.8,240]];
const heFitA = [[11.8, 1300], [46.2, 1027]];
const heBandA = [[11.8, 1183, 1417], [46.2, 910, 1144]];
const heFitB = [[1.9, 293], [90, 610]];
const heBandB = [[1.9, -3, 589], [90, 314, 906]];
const heMeanA = [24.2, 1200];
const heMeanB = [68.1, 526];

// ---- caption ----
const captionLines = [
  '{b|Fig. 5}: Scatter plots characterizing the magnetic field',
  'topology in region A and region B for different',
  'atmospheric heights. The VFISV results from the Ca I',
  '10839 Å line represent the data from the lowest layer',
  '(deep photosphere). The HAZEL results from the He I',
  '10830 Å triplet represent data from the high',
  'chromosphere. Shaded areas depict the standard',
  'deviation from a linear fit. Vertical/horizontal lines',
  'depict the respective average inclination/field strength',
  'value. The magenta cross indicates the average value',
  'across the contour of the TBF shown in Fig. 3.'
];

// ---- build ----
const ORANGE = '#ff7f0e';
const BLUE = '#1f77b4';
const TXT = '#111';
const FONT = 'DejaVu Sans';

const panels = [
  { box: [165, 32, 972, 703], x: [15, 90], y: [552, 1901], xt: xTicks, yt: yTicks,
    A: caA, B: caB, fitA: caFitA, fitB: caFitB, bandA: caBandA, bandB: caBandB, meanA: caMeanA, meanB: caMeanB, cross: caCross },
  { box: [1294, 32, 972, 703], x: [15, 90], y: [552, 1901], xt: xTicks, yt: yTicks,
    A: si15A, B: si15B, fitA: si15FitA, fitB: si15FitB, bandA: si15BandA, bandB: si15BandB, meanA: si15MeanA, meanB: si15MeanB, cross: si15Cross },
  { box: [165, 876, 972, 703], x: [15, 90], y: [552, 1901], xt: xTicks, yt: yTicks,
    A: si20A, B: si20B, fitA: si20FitA, fitB: si20FitB, bandA: si20BandA, bandB: si20BandB, meanA: si20MeanA, meanB: si20MeanB, cross: si20Cross },
  { box: [1294, 876, 972, 703], x: [15, 90], y: [552, 1901], xt: xTicks, yt: yTicks,
    A: si25A, B: si25B, fitA: si25FitA, fitB: si25FitB, bandA: si25BandA, bandB: si25BandB, meanA: si25MeanA, meanB: si25MeanB, cross: si25Cross },
  { box: [1296, 1716, 970, 699], x: [0, 90], y: [0, 1902], xt: heXTicks, yt: heYTicks,
    A: heA, B: heB, fitA: heFitA, fitB: heFitB, bandA: heBandA, bandB: heBandB, meanA: heMeanA, meanB: heMeanB, cross: null }
];

function bandRender(rows, color) {
  return function (params, api) {
    if (params.dataIndex !== 0) return null;
    const pts = [
      [rows[0][0], rows[0][2]], [rows[1][0], rows[1][2]],
      [rows[1][0], rows[1][1]], [rows[0][0], rows[0][1]]
    ].map(p => api.coord(p));
    const cs = params.coordSys;
    return {
      type: 'polygon',
      shape: { points: pts },
      style: { fill: color },
      clipPath: { type: 'rect', shape: { x: cs.x, y: cs.y, width: cs.width, height: cs.height } }
    };
  };
}

const grid = [], xAxis = [], yAxis = [], series = [], legend = [], graphic = [];
const plain = v => String(v);

panels.forEach((p, i) => {
  const [l, t, w, h] = p.box;
  grid.push({ left: l, top: t, width: w, height: h, show: true, borderColor: '#000', borderWidth: 1.6, backgroundColor: 'transparent' });
  xAxis.push({
    gridIndex: i, type: 'value', min: p.x[0], max: p.x[1],
    axisLine: { show: true, onZero: false, lineStyle: { color: '#000', width: 1.6 } },
    axisTick: { show: true, length: 8, customValues: p.xt, lineStyle: { color: '#000', width: 1.6 } },
    axisLabel: { customValues: p.xt, formatter: plain, fontSize: 24, color: TXT, fontFamily: FONT, margin: 14 },
    splitLine: { show: false },
    name: 'Inclination [deg]', nameLocation: 'middle', nameGap: 50,
    nameTextStyle: { fontSize: 24, color: TXT, fontFamily: FONT }
  });
  yAxis.push({
    gridIndex: i, type: 'value', min: p.y[0], max: p.y[1],
    axisLine: { show: true, onZero: false, lineStyle: { color: '#000', width: 1.6 } },
    axisTick: { show: true, length: 8, customValues: p.yt, lineStyle: { color: '#000', width: 1.6 } },
    axisLabel: { customValues: p.yt, formatter: plain, fontSize: 24, color: TXT, fontFamily: FONT, margin: 18 },
    splitLine: { show: false },
    name: 'Field strength [G]', nameLocation: 'middle', nameGap: 88, nameRotate: 90,
    nameTextStyle: { fontSize: 24, color: TXT, fontFamily: FONT }
  });
  const ax = { xAxisIndex: i, yAxisIndex: i };
  series.push({
    type: 'scatter', name: 'region A', ...ax, data: p.A, symbolSize: 5.5,
    itemStyle: { color: ORANGE }, z: 2
  });
  series.push({
    type: 'scatter', name: 'region B', ...ax, data: p.B, symbolSize: 5.5,
    itemStyle: { color: BLUE }, z: 3
  });
  series.push({ type: 'custom', name: 'bandA' + i, ...ax, data: p.bandA, silent: true, z: 4,
    renderItem: bandRender(p.bandA, 'rgba(255,127,14,0.2)') });
  series.push({ type: 'custom', name: 'bandB' + i, ...ax, data: p.bandB, silent: true, z: 4,
    renderItem: bandRender(p.bandB, 'rgba(31,119,180,0.1)') });
  series.push({ type: 'line', name: 'fitA' + i, ...ax, data: p.fitA, showSymbol: false, silent: true, z: 5,
    lineStyle: { color: ORANGE, width: 2, type: [7, 3] },
    markLine: { silent: true, symbol: 'none', label: { show: false },
      lineStyle: { color: ORANGE, width: 1.5, type: 'solid' },
      data: [{ xAxis: p.meanA[0] }, { yAxis: p.meanA[1] }] } });
  series.push({ type: 'line', name: 'fitB' + i, ...ax, data: p.fitB, showSymbol: false, silent: true, z: 6,
    lineStyle: { color: BLUE, width: 2, type: [7, 3] },
    markLine: { silent: true, symbol: 'none', label: { show: false },
      lineStyle: { color: BLUE, width: 1.5, type: 'solid' },
      data: [{ xAxis: p.meanB[0] }, { yAxis: p.meanB[1] }] } });
  if (p.cross) {
    series.push({ type: 'scatter', name: 'cross' + i, ...ax, data: [p.cross], silent: true, z: 10,
      symbol: 'path://M1,0H2V1H3V2H2V3H1V2H0V1H1Z', symbolSize: 37,
      itemStyle: { color: '#f01ed8' } });
  }
  legend.push({
    data: ['region A', 'region B'], orient: 'vertical', selectedMode: false,
    left: l + 767, top: t + 13,
    padding: [9, 14, 7, 31], itemGap: 10, itemWidth: 6, itemHeight: 6, icon: 'circle',
    borderColor: '#d0d0d0', borderWidth: 1.5, borderRadius: 5, backgroundColor: 'rgba(255,255,255,0.8)',
    textStyle: { fontSize: 24, color: TXT, fontFamily: FONT, lineHeight: 28, padding: [0, 0, 0, 37] }
  });
  graphic.push({
    type: 'text', x: l + w / 2, y: t - 26, silent: true,
    style: { text: panelTitles[i], fontSize: 30, fontFamily: FONT, fill: TXT, align: 'center', verticalAlign: 'middle' }
  });
});

// caption sized to the visible width of the first line
const capFont = 'Lato';
const capCut = 14;
const ctx = document.createElement('canvas').getContext('2d');
function tw(s, size, bold) {
  ctx.font = (bold ? 'bold ' : '') + size + 'px ' + capFont;
  return ctx.measureText(s).width;
}
const line1Width = tw('Fig. 5', 100, true) + tw(': Scatter plots characterizing the magnetic field', 100, false) - tw('Fi', 100, true);
const capSize = Math.round(100 * (1074 + capCut) / line1Width * 10) / 10;
const capX = -tw('Fi', capSize, true) - capCut;
captionLines.forEach((s, k) => {
  graphic.push({
    type: 'text', x: capX, y: 1714 + k * 64, silent: true,
    style: {
      text: s, fontSize: capSize, fontFamily: capFont, fill: '#000', align: 'left', verticalAlign: 'middle',
      rich: { b: { fontSize: capSize, fontFamily: capFont, fontWeight: 'bold', fill: '#000' } }
    }
  });
});

const chart = echarts.init(document.getElementById('chart'), null, { renderer: 'canvas' });
chart.setOption({
  animation: false,
  backgroundColor: '#fff',
  grid, xAxis, yAxis, series, legend, graphic
});
</script>
</body>
</html>
